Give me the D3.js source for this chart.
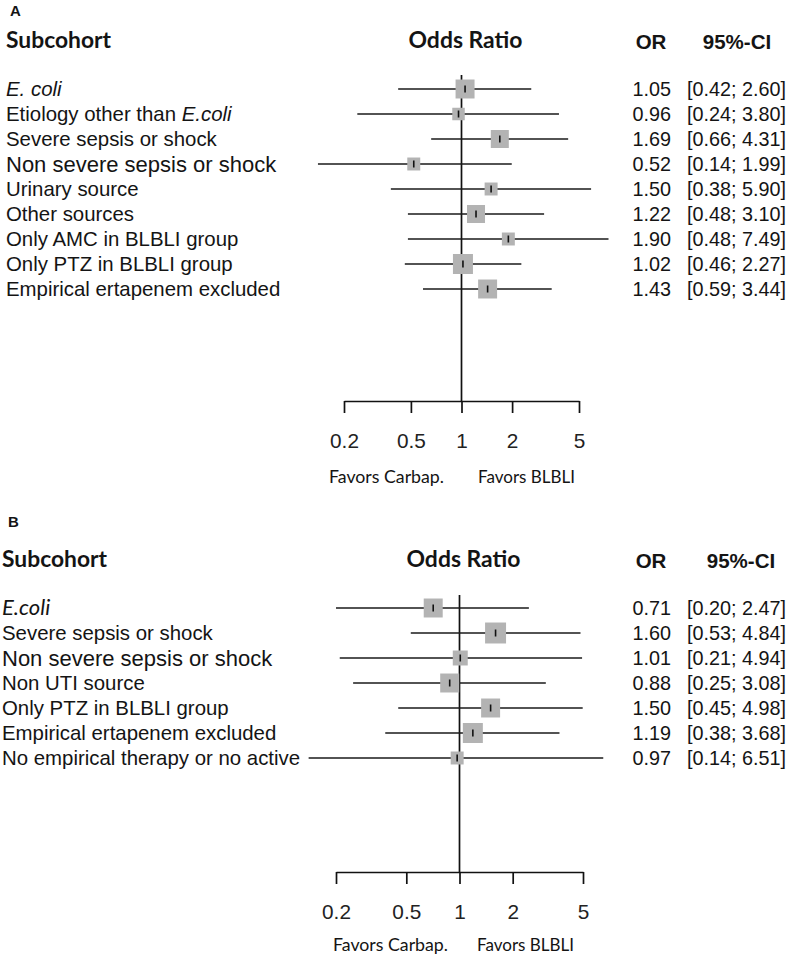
<!DOCTYPE html>
<html>
<head>
<meta charset="utf-8">
<script src="https://cdn.jsdelivr.net/npm/d3@7"></script>
<style>
  html, body { margin: 0; padding: 0; background: #fff; }
  svg { display: block; }
</style>
</head>
<body>
<script>
// ---------------- DATA ----------------
const tickValues = [0.2, 0.5, 1, 2, 5];
const tickLabels = ["0.2", "0.5", "1", "2", "5"];

// Panel A
const labelsA = ["E. coli", "Etiology other than E.coli", "Severe sepsis or shock",
  "Non severe sepsis or shock", "Urinary source", "Other sources",
  "Only AMC in BLBLI group", "Only PTZ in BLBLI group", "Empirical ertapenem excluded"];
const orA   = [1.05, 0.96, 1.69, 0.52, 1.50, 1.22, 1.90, 1.02, 1.43];
const lowA  = [0.42, 0.24, 0.66, 0.14, 0.38, 0.48, 0.48, 0.46, 0.59];
const highA = [2.60, 3.80, 4.31, 1.99, 5.90, 3.10, 7.49, 2.27, 3.44];
const weightA = [9.0, 3.9, 8.1, 4.2, 4.2, 8.1, 4.2, 10.0, 9.0];

// Panel B
const labelsB = ["E.coli", "Severe sepsis or shock", "Non severe sepsis or shock",
  "Non UTI source", "Only PTZ in BLBLI group", "Empirical ertapenem excluded",
  "No empirical therapy or no active"];
const orB   = [0.71, 1.60, 1.01, 0.88, 1.50, 1.19, 0.97];
const lowB  = [0.20, 0.53, 0.21, 0.25, 0.45, 0.38, 0.14];
const highB = [2.47, 4.84, 4.94, 3.08, 4.98, 3.68, 6.51];
const weightB = [9.0, 11.0, 5.6, 9.0, 9.0, 10.0, 4.2];

// ---------------- DRAW ----------------
const W = 790, H = 958;
const svg = d3.select("body").append("svg").attr("width", W).attr("height", H);
svg.append("rect").attr("width", W).attr("height", H).attr("fill", "#fff");

const ARIAL = "'Liberation Sans', Arial, sans-serif";
const CALIBRI = "Lato, 'Open Sans', sans-serif";
const INK = "#141414";
const f2 = d3.format(".2f");

function drawPanel(p) {
  const n = p.labels.length;
  const x = d3.scaleLog().domain([0.2, 5]).range([p.x0, p.x1]);
  const y = d3.scalePoint().domain(d3.range(n)).range([p.yTop, p.yBot]);
  const size = d3.scaleSqrt().domain([0, 10]).range([0, 20]);
  const g = svg.append("g");

  // Panel letter
  g.append("text").attr("x", p.letterX).attr("y", p.letterY)
    .attr("font-family", ARIAL).attr("font-weight", 700).attr("font-size", 15)
    .attr("fill", INK).text(p.letter);

  // Headers
  g.append("text").attr("x", p.labelX).attr("y", p.headY)
    .attr("font-family", CALIBRI).attr("font-weight", 700).attr("font-size", 22.5)
    .attr("textLength", 105).attr("lengthAdjust", "spacingAndGlyphs")
    .attr("fill", INK).text("Subcohort");
  g.append("text").attr("x", x(1) + 4).attr("y", p.headY).attr("text-anchor", "middle")
    .attr("font-family", CALIBRI).attr("font-weight", 700).attr("font-size", 22.5)
    .attr("textLength", 114).attr("lengthAdjust", "spacingAndGlyphs")
    .attr("fill", INK).text("Odds Ratio");
  g.append("text").attr("x", 651).attr("y", p.headY + 1).attr("text-anchor", "middle")
    .attr("font-family", ARIAL).attr("font-weight", 700).attr("font-size", 20.5)
    .attr("fill", INK).text("OR");
  g.append("text").attr("x", p.ciHeadX).attr("y", p.headY + 1).attr("text-anchor", "middle")
    .attr("font-family", ARIAL).attr("font-weight", 700).attr("font-size", 20.5)
    .attr("fill", INK).text("95%-CI");

  // Reference line at OR = 1
  g.append("line").attr("x1", x(1)).attr("x2", x(1))
    .attr("y1", p.refTop).attr("y2", p.axisY)
    .attr("stroke", "#111").attr("stroke-width", 1.7);

  // Axis
  const axis = d3.axisBottom(x).tickValues(tickValues)
    .tickFormat((d, i) => tickLabels[i]).tickSize(12).tickSizeOuter(0).tickPadding(20);
  const ag = g.append("g").attr("transform", `translate(0,${p.axisY})`).call(axis);
  ag.select(".domain").attr("stroke", "#111").attr("stroke-width", 1.7);
  ag.selectAll(".tick line").attr("stroke", "#111").attr("stroke-width", 1.7);
  ag.selectAll(".tick text").attr("font-family", ARIAL).attr("font-size", 20.8).attr("fill", "#222");

  // Favors labels
  g.append("text").attr("x", p.favL).attr("y", p.favY)
    .attr("font-family", CALIBRI).attr("font-size", 17.5).attr("fill", INK)
    .attr("textLength", 115).attr("lengthAdjust", "spacingAndGlyphs").text("Favors Carbap.");
  g.append("text").attr("x", p.favR).attr("y", p.favY)
    .attr("font-family", CALIBRI).attr("font-size", 17.5).attr("fill", INK)
    .attr("textLength", 97).attr("lengthAdjust", "spacingAndGlyphs").text("Favors BLBLI");

  const rows = d3.range(n).map(i => ({
    i, label: p.labels[i], or: p.or[i], lo: p.low[i], hi: p.high[i], w: p.weight[i]
  }));

  // CI lines
  g.selectAll("line.ci").data(rows).join("line").attr("class", "ci")
    .attr("x1", d => x(d.lo)).attr("x2", d => x(d.hi))
    .attr("y1", d => y(d.i)).attr("y2", d => y(d.i))
    .attr("stroke", "#1a1a1a").attr("stroke-width", 1.7);

  // Squares
  g.selectAll("rect.sq").data(rows).join("rect").attr("class", "sq")
    .attr("x", d => x(d.or) - size(d.w) / 2).attr("y", d => y(d.i) - size(d.w) / 2)
    .attr("width", d => size(d.w)).attr("height", d => size(d.w))
    .attr("fill", "#b3b3b3");

  // Point estimate tick
  g.selectAll("line.pt").data(rows).join("line").attr("class", "pt")
    .attr("x1", d => x(d.or)).attr("x2", d => x(d.or))
    .attr("y1", d => y(d.i) - 3.5).attr("y2", d => y(d.i) + 3.5)
    .attr("stroke", "#111").attr("stroke-width", 1.6);

  // Row labels (with italic E. coli)
  const lab = g.selectAll("text.lab").data(rows).join("text").attr("class", "lab")
    .attr("x", p.labelX).attr("y", d => y(d.i)).attr("dy", "0.35em")
    .attr("font-family", ARIAL)
    .attr("font-size", d => d.label.startsWith("Non severe") ? 22 : 20.4)
    .attr("fill", INK);
  lab.each(function(d) {
    const parts = d.label.split(/(E\. ?coli)/).filter(s => s.length);
    const t = d3.select(this);
    parts.forEach(s => {
      const ts = t.append("tspan").text(s);
      if (/^E\. ?coli$/.test(s)) {
        ts.attr("font-style", "italic");
        if (p.italicFont) ts.attr("font-family", p.italicFont).attr("font-size", 22);
      }
    });
  });

  // OR values
  g.selectAll("text.orv").data(rows).join("text").attr("class", "orv")
    .attr("x", 671).attr("y", d => y(d.i)).attr("dy", "0.35em").attr("text-anchor", "end")
    .attr("font-family", ARIAL).attr("font-size", 19.8).attr("fill", INK)
    .text(d => f2(d.or));
  g.selectAll("text.civ").data(rows).join("text").attr("class", "civ")
    .attr("x", 687).attr("y", d => y(d.i)).attr("dy", "0.35em")
    .attr("font-family", ARIAL).attr("font-size", 19.8).attr("fill", INK)
    .text(d => `[${f2(d.lo)}; ${f2(d.hi)}]`);
}

drawPanel({
  letter: "A", letterX: 10, letterY: 15.5,
  labels: labelsA, or: orA, low: lowA, high: highA, weight: weightA,
  x0: 344, x1: 579, yTop: 89, yBot: 289, refTop: 75, axisY: 401,
  labelX: 6, headY: 48, ciHeadX: 737,
  favL: 329, favR: 478, favY: 483, italicFont: null
});

drawPanel({
  letter: "B", letterX: 8, letterY: 527,
  labels: labelsB, or: orB, low: lowB, high: highB, weight: weightB,
  x0: 336, x1: 583, yTop: 608, yBot: 758, refTop: 595, axisY: 872,
  labelX: 2, headY: 567, ciHeadX: 741,
  favL: 333, favR: 477, favY: 951, italicFont: CALIBRI
});
</script>
</body>
</html>
